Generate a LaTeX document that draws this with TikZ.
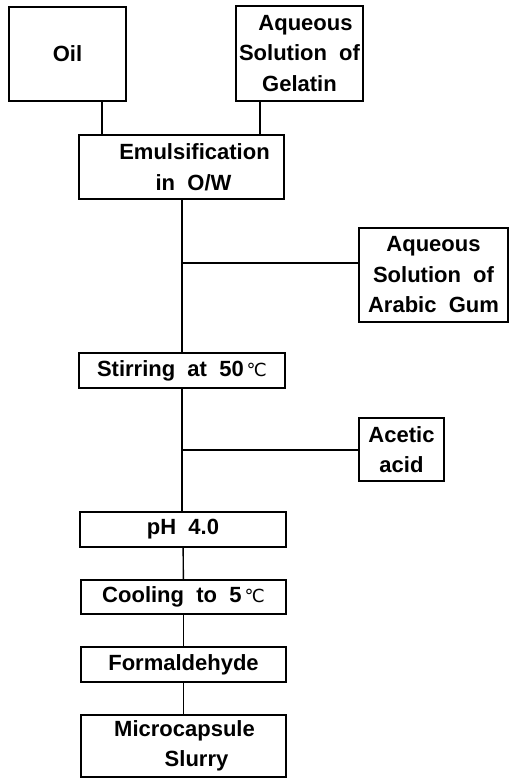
\documentclass[tikz,border=0pt]{standalone}
\usepackage{fontspec}
\setmainfont{Liberation Sans}
\newfontfamily\djv{DejaVu Sans}
\newcommand{\degc}{\hspace{3pt}{\djv\mdseries\fontsize{18}{20}\selectfont ℃}}
\begin{document}
\begin{tikzpicture}[x=1pt,y=-1pt,
  box/.style={draw,line width=1.4pt,rectangle,inner sep=0pt,align=center,
    font=\bfseries\fontsize{22}{30.5}\selectfont},
  conn/.style={line width=1.4pt}]
\useasboundingbox (0,0) rectangle (509,778);
\node[box,minimum width=117,minimum height=94] (oil) at (67.5,54) {Oil};
\node[box,minimum width=127,minimum height=95] (gel) at (299.5,53.5) {\hspace*{12pt}Aqueous\\Solution\ \ of\\Gelatin};
\node[box,minimum width=205,minimum height=64] (emul) at (181.5,167) {\hspace*{26pt}Emulsification\\\hspace*{24pt}in\ \ O/W};
\node[box,minimum width=149,minimum height=94] (gum) at (433.5,275) {Aqueous\\Solution\ \ of\\Arabic\ \ Gum};
\node[box,minimum width=206,minimum height=35] (stir) at (182,370.5) {Stirring\ \ at\ \ 50\degc};
\node[box,minimum width=85,minimum height=63] (acet) at (401.5,449.5) {Acetic\\acid};
\node[box,minimum width=206,minimum height=35] (ph) at (183,529.5) {pH\ \ 4.0};
\node[box,minimum width=205,minimum height=34] (cool) at (183.5,597) {Cooling\ \ to\ \ 5\degc};
\node[box,minimum width=205,minimum height=35] (form) at (183.5,664.5) {Formaldehyde};
\node[box,minimum width=205,minimum height=62] (micro) at (183.5,746) {\hspace*{2pt}Microcapsule\\\hspace*{26pt}Slurry};
\coordinate (j1) at (182,263);
\coordinate (j2) at (182,450);
\draw[conn] (oil.south -| 102,0) -- (emul.north -| 102,0);
\draw[conn] (gel.south -| 260,0) -- (emul.north -| 260,0);
\draw[conn] (emul.south -| 182,0) -- (stir.north -| 182,0);
\draw[conn] (j1) -- (j1 -| gum.west);
\draw[conn] (stir.south -| 182,0) -- (ph.north -| 182,0);
\draw[conn] (j2) -- (j2 -| acet.west);
\draw[conn] (ph) -- (cool);
\draw[conn] (cool) -- (form);
\draw[conn] (form) -- (micro);
\end{tikzpicture}
\end{document}
